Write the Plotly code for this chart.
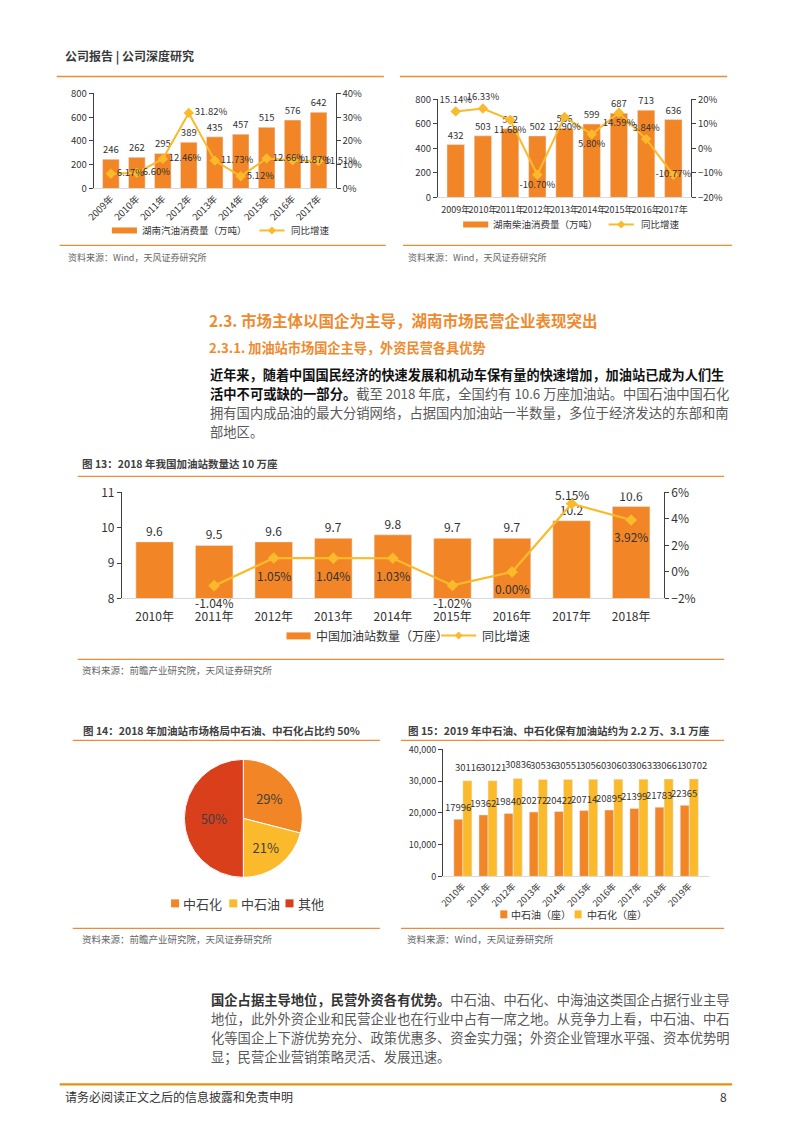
import plotly.graph_objects as go

W, H = 793, 1122
FONT = "Noto Sans CJK SC"

# ---------------- data ----------------
years_a = ["2009年", "2010年", "2011年", "2012年", "2013年", "2014年", "2015年", "2016年", "2017年"]
gasoline = [246, 262, 295, 389, 435, 457, 515, 576, 642]
gasoline_growth = [6.17, 6.60, 12.46, 31.82, 11.73, 5.12, 12.66, 11.87, 11.51]

diesel = [432, 503, 562, 502, 566, 599, 687, 713, 636]
diesel_growth = [15.14, 16.33, 11.68, -10.70, 12.90, 5.80, 14.59, 3.84, -10.77]

years_c = ["2010年", "2011年", "2012年", "2013年", "2014年", "2015年", "2016年", "2017年", "2018年"]
stations = [9.6, 9.5, 9.6, 9.7, 9.8, 9.7, 9.7, 10.2, 10.6]
stations_growth = [None, -1.04, 1.05, 1.04, 1.03, -1.02, 0.00, 5.15, 3.92]

pie_labels = ["中石化", "中石油", "其他"]
pie_values = [29, 21, 50]

years_e = ["2010年", "2011年", "2012年", "2013年", "2014年", "2015年", "2016年", "2017年", "2018年", "2019年"]
cnpc = [17996, 19362, 19840, 20272, 20422, 20714, 20895, 21399, 21783, 22365]
sinopec = [30116, 30121, 30836, 30536, 30551, 30560, 30603, 30633, 30661, 30702]

# ---------------- style ----------------
ORANGE = "#F28627"
YELLOW = "#FBBA2B"
RED = "#DA3F1C"
HEAD = "#EF8A2E"
RULE = "#EE8B36"
AX = "#404040"
TXT = "#333333"

# page-coordinate mapping (compensates the capture offset/scale)
S, O = 0.985, 17.5


def px(x):
    return ((x - O) / S) / W


def py(y):
    return 1 - ((y - O) / S) / H


fig = go.Figure()
shapes = []
annots = []


def T(x, y, text, size, color=TXT, anchor="left", yanchor="middle"):
    annots.append(dict(x=px(x), y=py(y), xref="paper", yref="paper", text=text,
                       showarrow=False, xanchor=anchor, yanchor=yanchor,
                       font=dict(family=FONT, size=size, color=color)))


def hline(x0, x1, y, color=RULE, width=1.3):
    shapes.append(dict(type="line", xref="paper", yref="paper", x0=px(x0), x1=px(x1),
                       y0=py(y), y1=py(y), line=dict(color=color, width=width)))


def rect(x0, y0, x1, y1, color):
    shapes.append(dict(type="rect", xref="paper", yref="paper", x0=px(x0), x1=px(x1),
                       y0=py(y0), y1=py(y1), fillcolor=color, line=dict(width=0)))


def legend_line(x0, x1, y, color=YELLOW):
    shapes.append(dict(type="line", xref="paper", yref="paper", x0=px(x0), x1=px(x1),
                       y0=py(y), y1=py(y), line=dict(color=color, width=2)))
    cx = (x0 + x1) / 2
    d = 4
    path = "M {a},{b} L {c},{e} L {a},{f} L {g},{e} Z".format(
        a=px(cx), b=py(y - d), c=px(cx + d), e=py(y), f=py(y + d), g=px(cx - d))
    shapes.append(dict(type="path", xref="paper", yref="paper", path=path,
                       fillcolor=color, line=dict(width=0)))


def yax(domain, rng, dtick, fmt=None, size=9.5, side="left", overlay=None, anchor="x"):
    d = dict(range=rng, dtick=dtick, showline=True, linecolor=AX, linewidth=1,
             ticks="outside", ticklen=4, tickcolor=AX, showgrid=False, zeroline=False,
             tickfont=dict(family=FONT, size=size, color=TXT), side=side, anchor=anchor,
             fixedrange=True)
    if overlay:
        d["overlaying"] = overlay
    else:
        d["domain"] = domain
    if fmt:
        d["tickformat"] = fmt
    return d


def xax(domain, anchor, angle, size, standoff=0):
    d = dict(domain=domain, anchor=anchor, type="category", tickangle=angle,
             showline=True, linecolor="#D9D9D9", linewidth=1, ticks="", showgrid=False,
             tickfont=dict(family=FONT, size=size, color=TXT), fixedrange=True)
    if standoff:
        d["ticklabelstandoff"] = standoff
    return d


# ---------------- Chart A ----------------
fig.add_trace(go.Bar(x=years_a, y=gasoline, xaxis="x", yaxis="y", marker_color=ORANGE,
                     width=0.64, text=[str(v) for v in gasoline], textposition="outside",
                     textfont=dict(family=FONT, size=9.5, color=TXT), cliponaxis=False,
                     constraintext="none"))
fig.add_trace(go.Scatter(x=years_a, y=[v / 100 for v in gasoline_growth], xaxis="x", yaxis="y2",
                         mode="lines+markers+text", line=dict(color=YELLOW, width=2),
                         marker=dict(symbol="diamond", size=8, color=YELLOW),
                         text=["%.2f%%" % v for v in gasoline_growth], textposition="middle right",
                         textfont=dict(family=FONT, size=9.5, color=TXT), cliponaxis=False))

# ---------------- Chart B ----------------
fig.add_trace(go.Bar(x=years_a, y=diesel, xaxis="x2", yaxis="y3", marker_color=ORANGE,
                     width=0.64, text=[str(v) for v in diesel], textposition="outside",
                     textfont=dict(family=FONT, size=9.5, color=TXT), cliponaxis=False,
                     constraintext="none"))
fig.add_trace(go.Scatter(x=years_a, y=[v / 100 for v in diesel_growth], xaxis="x2", yaxis="y4",
                         mode="lines+markers+text", line=dict(color=YELLOW, width=2),
                         marker=dict(symbol="diamond", size=8, color=YELLOW),
                         text=["%.2f%%" % v for v in diesel_growth],
                         textposition=["top center", "top center", "bottom center", "bottom center",
                                       "bottom center", "bottom center", "bottom center",
                                       "top center", "middle center"],
                         textfont=dict(family=FONT, size=9.5, color=TXT), cliponaxis=False))

# ---------------- Chart C ----------------
fig.add_trace(go.Bar(x=years_c, y=stations, xaxis="x3", yaxis="y5", marker_color=ORANGE,
                     width=0.63, text=[str(v) for v in stations], textposition="outside",
                     textfont=dict(family=FONT, size=12, color=TXT), cliponaxis=True,
                     constraintext="none"))
fig.add_trace(go.Scatter(x=years_c, y=[None if v is None else v / 100 for v in stations_growth],
                         xaxis="x3", yaxis="y6",
                         mode="lines+markers", line=dict(color=YELLOW, width=2.2),
                         marker=dict(symbol="diamond", size=9, color=YELLOW), cliponaxis=False))
gmax = max(g for g in stations_growth if g is not None)
for cat, v in zip(years_c, stations_growth):
    if v is None:
        continue
    annots.append(dict(x=cat, y=v / 100, xref="x3", yref="y6", text="%.2f%%" % v,
                       showarrow=False, xanchor="center", yanchor="middle",
                       yshift=9 if v == gmax else -17,
                       font=dict(family=FONT, size=12, color=TXT)))

# ---------------- Pie ----------------
fig.add_trace(go.Pie(labels=pie_labels, values=pie_values, sort=False, direction="clockwise",
                     rotation=0, domain=dict(x=[px(184), px(302)], y=[py(877), py(759)]),
                     marker=dict(colors=[ORANGE, YELLOW, RED], line=dict(color="white", width=1)),
                     texttemplate="%{value}%", textposition="inside",
                     insidetextorientation="horizontal",
                     textfont=dict(family=FONT, size=13, color="#404040"), showlegend=False,
                     hoverinfo="skip"))

# ---------------- Chart E ----------------
fig.add_trace(go.Bar(x=years_e, y=cnpc, xaxis="x4", yaxis="y7", marker_color=ORANGE))
fig.add_trace(go.Bar(x=years_e, y=sinopec, xaxis="x4", yaxis="y7", marker_color=YELLOW))
for cat, a, b in zip(years_e, cnpc, sinopec):
    annots.append(dict(x=cat, y=a, xref="x4", yref="y7", text=str(a), showarrow=False,
                       xanchor="center", yanchor="bottom", xshift=-4.8, yshift=3,
                       font=dict(family=FONT, size=9.5, color=TXT)))
    annots.append(dict(x=cat, y=b, xref="x4", yref="y7", text=str(b), showarrow=False,
                       xanchor="center", yanchor="bottom", xshift=4.8, yshift=5,
                       font=dict(family=FONT, size=9.5, color=TXT)))

fig.update_layout(
    width=W, height=H, margin=dict(l=0, r=0, t=0, b=0), autosize=False,
    paper_bgcolor="white", plot_bgcolor="white", showlegend=False,
    barmode="group", bargap=0.28, bargroupgap=0,
    font=dict(family=FONT, color=TXT),
    xaxis=xax([px(94), px(335)], "y", -45, 9.5),
    yaxis=yax([py(188), py(93)], [0, 800], 200, anchor="x"),
    yaxis2=yax(None, [0, 0.4], 0.1, ".0%", side="right", overlay="y", anchor="x"),
    xaxis2=xax([px(437), px(689)], "y3", 0, 9, standoff=4),
    yaxis3=yax([py(197), py(99)], [0, 800], 200, anchor="x2"),
    yaxis4=yax(None, [-0.2, 0.2], 0.1, ".0%", side="right", overlay="y3", anchor="x2"),
    xaxis3=xax([px(122), px(662)], "y5", 0, 12, standoff=7),
    yaxis5=yax([py(598), py(492)], [8, 11], 1, size=12, anchor="x3"),
    yaxis6=yax(None, [-0.02, 0.06], 0.02, ".0%", size=12, side="right", overlay="y5", anchor="x3"),
    xaxis4=xax([px(442), px(707)], "y7", -45, 9),
    yaxis7=yax([py(876), py(749)], [0, 40000], 10000, ",d", size=9, anchor="x4"),
)

# ---------------- page text & decoration ----------------
T(63, 56, "<b>公司报告 | 公司深度研究</b>", 12, "#3A3A3A")
hline(57, 383, 76)
hline(399, 725, 76)

# chart A legend
rect(112, 227, 137, 233, ORANGE)
T(140, 230, "湖南汽油消费量（万吨）", 9.5)
legend_line(259, 284, 230)
T(288, 230, "同比增速", 9.5)
# chart B legend
rect(462, 221, 487, 227, ORANGE)
T(490, 224, "湖南柴油消费量（万吨）", 9.5)
legend_line(607, 632, 224)
T(637, 224, "同比增速", 9.5)

hline(60, 385, 245)
hline(402, 730, 245)
T(66, 257, "资料来源：Wind，天风证券研究所", 9, "#666666")
T(405, 257, "资料来源：Wind，天风证券研究所", 9, "#666666")

T(207, 320, "<b>2.3. 市场主体以国企为主导，湖南市场民营企业表现突出</b>", 15.5, HEAD)
T(207, 347, "<b>2.3.1. 加油站市场国企主导，外资民营各具优势</b>", 13.2, HEAD)

G = "#595959"
T(208, 374, "<b>近年来，随着中国国民经济的快速发展和机动车保有量的快速增加，加油站已成为人们生</b>", 13.2, "#111111")
T(208, 393, "<b>活中不可或缺的一部分。</b><span style='color:%s'>截至 2018 年底，全国约有 10.6 万座加油站。中国石油中国石化</span>" % G, 13.3, "#111111")
T(208, 412, "拥有国内成品油的最大分销网络，占据国内加油站一半数量，多位于经济发达的东部和南", 13.3, G)
T(208, 431, "部地区。", 13.3, G)

# figure 13
T(80, 463, "<b>图 13：2018 年我国加油站数量达 10 万座</b>", 10.5, "#404040")
hline(78, 722, 476)
rect(286, 632, 310, 639, ORANGE)
T(313, 635, "中国加油站数量（万座）", 12)
legend_line(440, 475, 635)
T(479, 635, "同比增速", 12)
hline(78, 722, 659)
T(80, 670, "资料来源：前瞻产业研究院，天风证券研究所", 9.5, "#666666")

# figure 14 / 15
T(81, 730, "<b>图 14：2018 年加油站市场格局中石油、中石化占比约 50%</b>", 10.5, "#404040")
T(405, 730, "<b>图 15：2019 年中石油、中石化保有加油站约为 2.2 万、3.1 万座</b>", 10.5, "#404040")
hline(73, 379, 740)
hline(400, 722, 740)

rect(171, 899, 179, 907, ORANGE)
T(181, 903, "中石化", 13, "#404040")
rect(229, 899, 237, 907, YELLOW)
T(239, 903, "中石油", 13, "#404040")
rect(285, 899, 293, 907, RED)
T(295, 903, "其他", 13, "#404040")

rect(499, 910, 506, 918, ORANGE)
T(508, 914, "中石油（座）", 10)
rect(573, 910, 580, 918, YELLOW)
T(583, 914, "中石化（座）", 10)

hline(73, 379, 928)
hline(400, 722, 928)
T(80, 939, "资料来源：前瞻产业研究院，天风证券研究所", 9.5, "#666666")
T(404, 939, "资料来源：Wind，天风证券研究所", 9.5, "#666666")

T(209, 999, "<b>国企占据主导地位，民营外资各有优势。</b><span style='color:%s'>中石油、中石化、中海油这类国企占据行业主导</span>" % G, 13.3, "#333333")
T(209, 1018, "地位，此外外资企业和民营企业也在行业中占有一席之地。从竞争力上看，中石油、中石", 13.3, G)
T(209, 1037, "化等国企上下游优势充分、政策优惠多、资金实力强；外资企业管理水平强、资本优势明", 13.3, G)
T(209, 1056, "显；民营企业营销策略灵活、发展迅速。", 13.3, G)

hline(60, 730, 1084, color="#E8900F", width=2.2)
T(63, 1096, "请务必阅读正文之后的信息披露和免责申明", 12, "#333333")
T(727, 1096, "8", 12, "#333333", anchor="right")

fig.update_layout(shapes=shapes, annotations=annots)
fig.write_html("out.html")
